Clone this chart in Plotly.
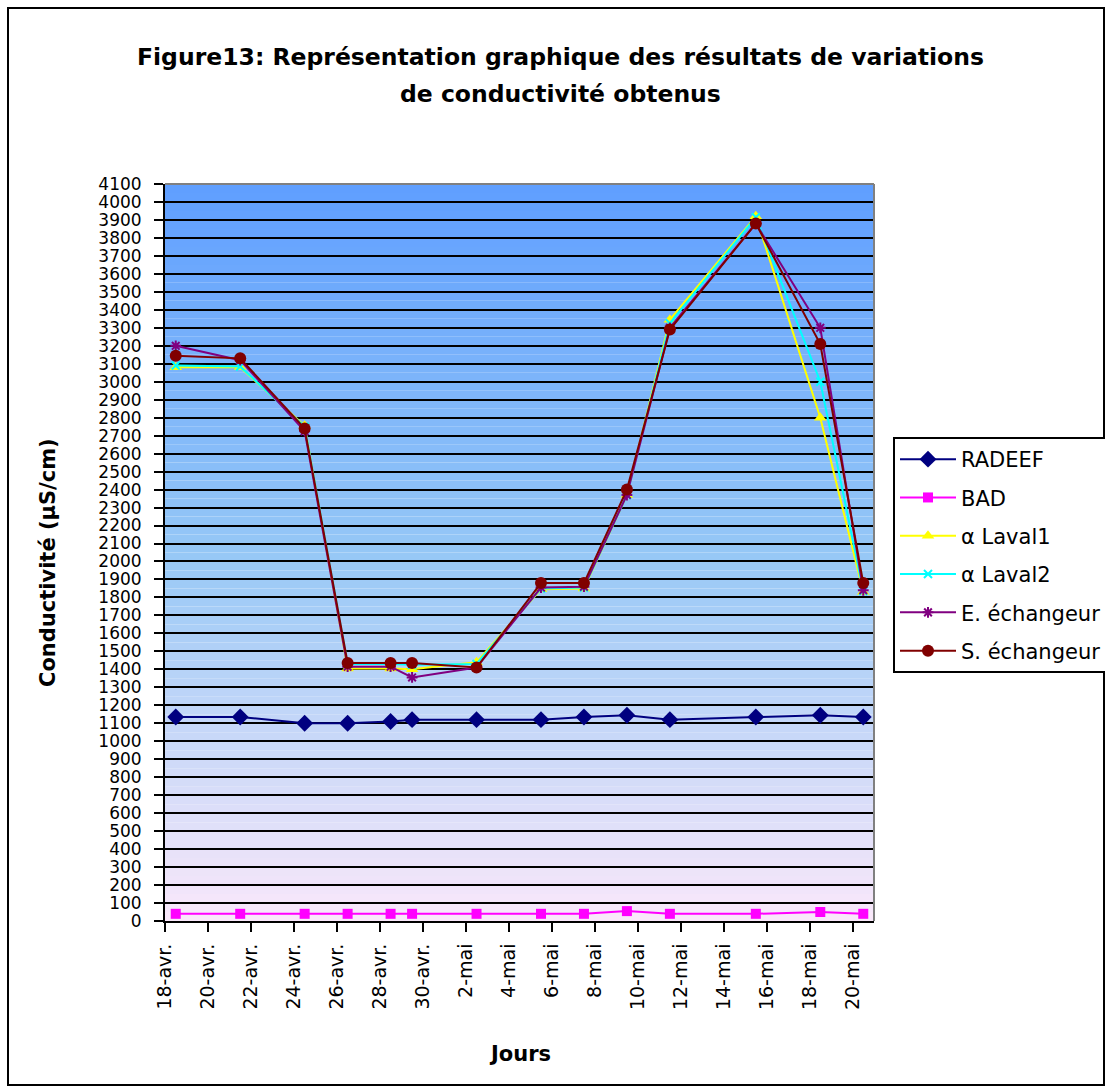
import plotly.graph_objects as go
import pandas as pd

# ---------------- data ----------------
dates = ["2010-04-18", "2010-04-21", "2010-04-24", "2010-04-26", "2010-04-28", "2010-04-29",
         "2010-05-02", "2010-05-05", "2010-05-07", "2010-05-09", "2010-05-11", "2010-05-15",
         "2010-05-18", "2010-05-20"]
radeef = [1135, 1135, 1100, 1100, 1110, 1120, 1120, 1120, 1135, 1145, 1120, 1135, 1145, 1135]
bad = [40, 40, 40, 40, 40, 40, 40, 40, 40, 55, 40, 40, 50, 40]
laval1 = [3080, 3080, 2755, 1405, 1405, 1400, 1440, 1845, 1850, 2370, 3345, 3920, 2800, 1830]
laval2 = [3090, 3085, 2750, 1430, 1430, 1425, 1430, 1850, 1855, 2370, 3325, 3915, 3000, 1835]
e_echangeur = [3200, 3120, 2725, 1415, 1415, 1355, 1410, 1855, 1860, 2370, 3300, 3880, 3300, 1840]
s_echangeur = [3145, 3130, 2740, 1435, 1435, 1435, 1410, 1880, 1880, 2400, 3290, 3880, 3210, 1880]

series_names = ["RADEEF", "BAD", "α Laval1", "α Laval2", "E. échangeur", "S. échangeur"]
tick_dates = ["2010-04-18", "2010-04-20", "2010-04-22", "2010-04-24", "2010-04-26", "2010-04-28",
              "2010-04-30", "2010-05-02", "2010-05-04", "2010-05-06", "2010-05-08", "2010-05-10",
              "2010-05-12", "2010-05-14", "2010-05-16", "2010-05-18", "2010-05-20"]
tick_labels = ["18-avr.", "20-avr.", "22-avr.", "24-avr.", "26-avr.", "28-avr.", "30-avr.",
               "2-mai", "4-mai", "6-mai", "8-mai", "10-mai", "12-mai", "14-mai", "16-mai",
               "18-mai", "20-mai"]
y_max = 4100
y_step = 100

# ---------------- layout geometry ----------------
W, H = 1105, 1090
L, R, T, B = 165, 874, 184, 921  # plot area in pixels
PW, PH = R - L, B - T


def px(x):
    return (x - L) / PW


def py(y):
    return (B - y) / PH


half_day = pd.Timedelta(hours=12)
x_dates = pd.to_datetime(dates)
tickvals = [d - half_day for d in pd.to_datetime(tick_dates)]
x_range = [pd.to_datetime(dates[0]) - half_day, pd.to_datetime(dates[-1]) + half_day]

FONT = "DejaVu Sans, Verdana, sans-serif"

styles = [
    dict(color="#000080", symbol="diamond", size=13),
    dict(color="#FF00FF", symbol="square", size=10),
    dict(color="#FFFF00", symbol="triangle-up", size=11),
    dict(color="#00FFFF", symbol="x-thin-open", size=8),
    dict(color="#800080", symbol="asterisk-open", size=9),
    dict(color="#800000", symbol="circle", size=12),
]
values = [radeef, bad, laval1, laval2, e_echangeur, s_echangeur]

fig = go.Figure()
for i, (name, vals, st) in enumerate(zip(series_names, values, styles)):
    marker = dict(color=st["color"], symbol=st["symbol"], size=st["size"])
    if st["symbol"].endswith("-open"):
        marker["line"] = dict(color=st["color"], width=2)
    else:
        marker["line"] = dict(width=0)
    fig.add_trace(go.Scatter(
        x=x_dates, y=vals, name=name, mode="lines+markers",
        line=dict(color=st["color"], width=2),
        marker=marker, legendgroup=f"g{i}",
    ))

# ---------------- gradient background ----------------
def lerp(c1, c2, t):
    return tuple(round(a + (b - a) * t) for a, b in zip(c1, c2))

top_c = (95, 158, 255)
mid_c = (150, 200, 246)
bot_c = (250, 232, 250)
shapes = []
n_bands = 82
for k in range(n_bands):
    y0 = y_max * k / n_bands
    y1 = y_max * (k + 1) / n_bands
    ym = (y0 + y1) / 2
    if ym >= 2050:
        c = lerp(mid_c, top_c, (ym - 2050) / 2050)
    else:
        c = lerp(bot_c, mid_c, ym / 2050)
    shapes.append(dict(type="rect", xref="paper", yref="y", x0=0, x1=1, y0=y0, y1=y1,
                       fillcolor="rgb(%d,%d,%d)" % c, line=dict(width=0), layer="below"))

# top and right gray plot borders
shapes.append(dict(type="line", xref="paper", yref="paper", x0=0, x1=1, y0=1, y1=1,
                   line=dict(color="#808080", width=2), layer="above"))
shapes.append(dict(type="line", xref="paper", yref="paper", x0=1, x1=1, y0=0, y1=1,
                   line=dict(color="#808080", width=2), layer="above"))
# outer chart frame
shapes.append(dict(type="rect", xref="paper", yref="paper",
                   x0=px(8), x1=px(1104), y0=py(1085), y1=py(8),
                   line=dict(color="black", width=2), fillcolor="rgba(0,0,0,0)", layer="below"))

annotations = [
    dict(text="<b>Figure13: Représentation graphique des résultats de variations</b>",
         xref="paper", yref="paper", x=px(560), y=py(57), showarrow=False,
         font=dict(family=FONT, size=23.5, color="black"), xanchor="center", yanchor="middle"),
    dict(text="<b>de conductivité obtenus</b>",
         xref="paper", yref="paper", x=px(560), y=py(94), showarrow=False,
         font=dict(family=FONT, size=23.5, color="black"), xanchor="center", yanchor="middle"),
    dict(text="<b>Conductivité (µS/cm)</b>", textangle=-90,
         xref="paper", yref="paper", x=px(48), y=py(563), showarrow=False,
         font=dict(family=FONT, size=21, color="black"), xanchor="center", yanchor="middle"),
    dict(text="<b>Jours</b>",
         xref="paper", yref="paper", x=px(520), y=py(1054), showarrow=False,
         font=dict(family=FONT, size=21, color="black"), xanchor="center", yanchor="middle"),
]

fig.update_layout(
    width=W, height=H,
    margin=dict(l=L, r=W - R, t=T, b=H - B, pad=0, autoexpand=False),
    paper_bgcolor="white", plot_bgcolor="rgba(0,0,0,0)",
    shapes=shapes, annotations=annotations,
    font=dict(family=FONT, size=17, color="black"),
    legend=dict(x=px(893), y=py(437), xanchor="left", yanchor="top",
                bgcolor="white", bordercolor="black", borderwidth=2,
                font=dict(family=FONT, size=21, color="black"),
                tracegroupgap=8, itemwidth=56, traceorder="grouped"),
    showlegend=True,
    xaxis=dict(type="date", range=x_range, tickmode="array", tickvals=tickvals,
               ticktext=tick_labels, tickangle=-90, showgrid=False, zeroline=False,
               showline=True, linecolor="black", linewidth=2,
               ticks="outside", ticklen=9, tickwidth=2, tickcolor="black",
               ticklabelstandoff=4,
               tickfont=dict(family=FONT, size=19, color="black")),
    yaxis=dict(range=[0, y_max], tickmode="linear", tick0=0, dtick=y_step,
               showgrid=True, gridcolor="black", gridwidth=2, zeroline=False,
               showline=True, linecolor="black", linewidth=2,
               ticks="outside", ticklen=9, tickwidth=2, tickcolor="black",
               ticklabelstandoff=9,
               tickfont=dict(family=FONT, size=17, color="black")),
)

fig.write_html("out.html")
